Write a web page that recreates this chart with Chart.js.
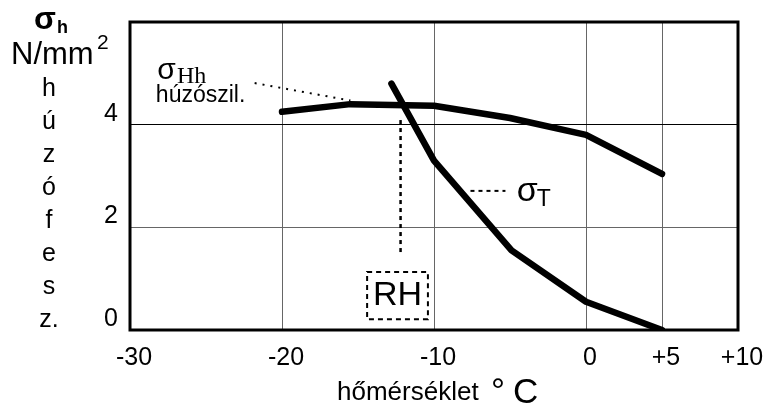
<!DOCTYPE html>
<html lang="hu">
<head>
    <meta charset="UTF-8">
    <title>σh – hőmérséklet</title>
    <script src="https://cdn.jsdelivr.net/npm/chart.js"></script>
    <style>
        html, body { margin: 0; padding: 0; background: #fff; }
        #wrap { width: 766px; height: 412px; }
    </style>
</head>
<body>
    <div id="wrap"><canvas id="chart" width="766" height="412"></canvas></div>

    <script>
        // data
        const tempHh = [-20, -15.5, -10, -5, 0, 5];
        const sigmaHh = [4.25, 4.4, 4.37, 4.13, 3.8, 3.04];
        const tempT = [-12.8, -10, -4.9, 0, 5];
        const sigmaT = [4.8, 3.3, 1.55, 0.55, 0];

        const xTicks = [-30, -20, -10, 0, 5, 10];
        const yTicks = [0, 2, 4, 6];
        const yLetters = ['h', 'ú', 'z', 'ó', 'f', 'e', 's', 'z.'];

        const FONT = '"Liberation Sans", Arial, sans-serif';
        const SERIF = '"Liberation Serif", "Times New Roman", serif';

        const toPoints = (xs, ys) => xs.map((x, i) => ({ x: x, y: ys[i] }));

        const frameAndLabels = {
            id: 'frameAndLabels',
            afterDraw(chart) {
                const ctx = chart.ctx;
                const a = chart.chartArea;
                const sx = chart.scales.x, sy = chart.scales.y;
                const px = v => sx.getPixelForValue(v);
                const py = v => sy.getPixelForValue(v);

                ctx.save();
                // frame
                ctx.strokeStyle = '#000';
                ctx.lineWidth = 3;
                ctx.setLineDash([]);
                ctx.strokeRect(a.left, a.top, a.right - a.left, a.bottom - a.top);

                ctx.fillStyle = '#000';
                ctx.textBaseline = 'alphabetic';
                ctx.textAlign = 'left';

                // y axis title
                ctx.font = 'bold 32px ' + FONT;
                ctx.fillText('σ', 34, 29);
                ctx.font = 'bold 18px ' + FONT;
                ctx.fillText('h', 57, 33);
                ctx.font = '31px ' + FONT;
                ctx.fillText('N/mm', 11, 64);
                ctx.font = '21px ' + FONT;
                ctx.fillText('2', 97, 49);
                ctx.font = '25px ' + FONT;
                ctx.textAlign = 'center';
                yLetters.forEach((t, i) => ctx.fillText(t, 49, 96 + i * 33));

                // x axis title
                ctx.textAlign = 'left';
                ctx.font = '26px ' + FONT;
                ctx.fillText('hőmérséklet', 337, 400);
                ctx.font = '35px ' + FONT;
                ctx.fillText('°', 491, 403);
                ctx.fillText('C', 513, 403);

                // σHh label
                ctx.font = '30px ' + FONT;
                ctx.fillText('σ', px(-28.2), py(4.89));
                let w = ctx.measureText('σ').width;
                ctx.font = '24px ' + SERIF;
                ctx.fillText('Hh', px(-28.2) + w + 1, py(4.82));
                ctx.font = '23px ' + FONT;
                ctx.fillText('húzószil.', px(-28.3), py(4.44));

                // dotted leader to σHh curve
                ctx.lineWidth = 2;
                ctx.setLineDash([2, 6]);
                ctx.beginPath();
                ctx.moveTo(px(-21.8), py(4.81));
                ctx.lineTo(px(-15.5), py(4.47));
                ctx.stroke();

                // RH dashed vertical and box
                ctx.lineWidth = 2.5;
                ctx.setLineDash([4, 4]);
                ctx.beginPath();
                ctx.moveTo(px(-12.2), py(4.09));
                ctx.lineTo(px(-12.2), py(1.46));
                ctx.stroke();
                ctx.lineWidth = 2;
                ctx.setLineDash([5, 4]);
                ctx.strokeRect(px(-14.4), py(1.13), px(-10.4) - px(-14.4), py(0.21) - py(1.13));
                ctx.setLineDash([]);
                ctx.font = '34px ' + FONT;
                ctx.textAlign = 'center';
                ctx.textBaseline = 'middle';
                ctx.fillText('RH', px(-12.4), py(0.67));

                // σT leader and label
                ctx.lineWidth = 2;
                ctx.setLineDash([4, 4]);
                ctx.beginPath();
                ctx.moveTo(px(-7.6), py(2.71));
                ctx.lineTo(px(-5.3), py(2.71));
                ctx.stroke();
                ctx.setLineDash([]);
                ctx.textAlign = 'left';
                ctx.textBaseline = 'alphabetic';
                ctx.font = '34px ' + FONT;
                ctx.fillText('σ', px(-4.55), py(2.52));
                w = ctx.measureText('σ').width;
                ctx.font = '23px ' + FONT;
                ctx.fillText('T', px(-4.55) + w - 1, py(2.42));
                ctx.restore();
            }
        };

        new Chart(document.getElementById('chart'), {
            type: 'scatter',
            data: {
                datasets: [{
                    label: 'σHh',
                    data: toPoints(tempHh, sigmaHh),
                    showLine: true,
                    borderColor: '#000',
                    borderWidth: 6.5,
                    borderCapStyle: 'round',
                    borderJoinStyle: 'round',
                    pointRadius: 0
                }, {
                    label: 'σT',
                    data: toPoints(tempT, sigmaT),
                    showLine: true,
                    borderColor: '#000',
                    borderWidth: 6.5,
                    borderCapStyle: 'round',
                    borderJoinStyle: 'round',
                    pointRadius: 0
                }]
            },
            options: {
                responsive: false,
                animation: false,
                layout: { padding: { top: 22, right: 28, left: 0, bottom: 0 } },
                plugins: {
                    legend: { display: false },
                    tooltip: { enabled: false }
                },
                scales: {
                    x: {
                        type: 'linear',
                        min: -30,
                        max: 10,
                        afterBuildTicks: s => { s.ticks = xTicks.map(v => ({ value: v })); },
                        afterFit: s => {
                            s.height = 82;
                            s.paddingLeft = 0;
                            s.paddingRight = 0;
                        },
                        border: { display: false },
                        grid: { color: '#666', lineWidth: 1, drawTicks: false },
                        ticks: {
                            color: '#000',
                            font: { family: FONT, size: 25 },
                            padding: 13,
                            labelOffset: 4,
                            maxRotation: 0,
                            callback: v => (v > 0 ? '+' + v : String(v))
                        }
                    },
                    y: {
                        type: 'linear',
                        min: 0,
                        max: 6,
                        afterBuildTicks: s => { s.ticks = yTicks.map(v => ({ value: v })); },
                        afterFit: s => {
                            s.width = 130;
                            s.paddingTop = 0;
                            s.paddingBottom = 0;
                        },
                        border: { display: false },
                        grid: {
                            color: c => (c.tick && c.tick.value === 4 ? '#000' : '#666'),
                            lineWidth: 1,
                            drawTicks: false
                        },
                        ticks: {
                            color: '#000',
                            font: { family: FONT, size: 25 },
                            padding: 12,
                            labelOffset: -11,
                            callback: v => (v === 6 ? '' : String(v))
                        }
                    }
                }
            },
            plugins: [frameAndLabels]
        });
    </script>
</body>
</html>
